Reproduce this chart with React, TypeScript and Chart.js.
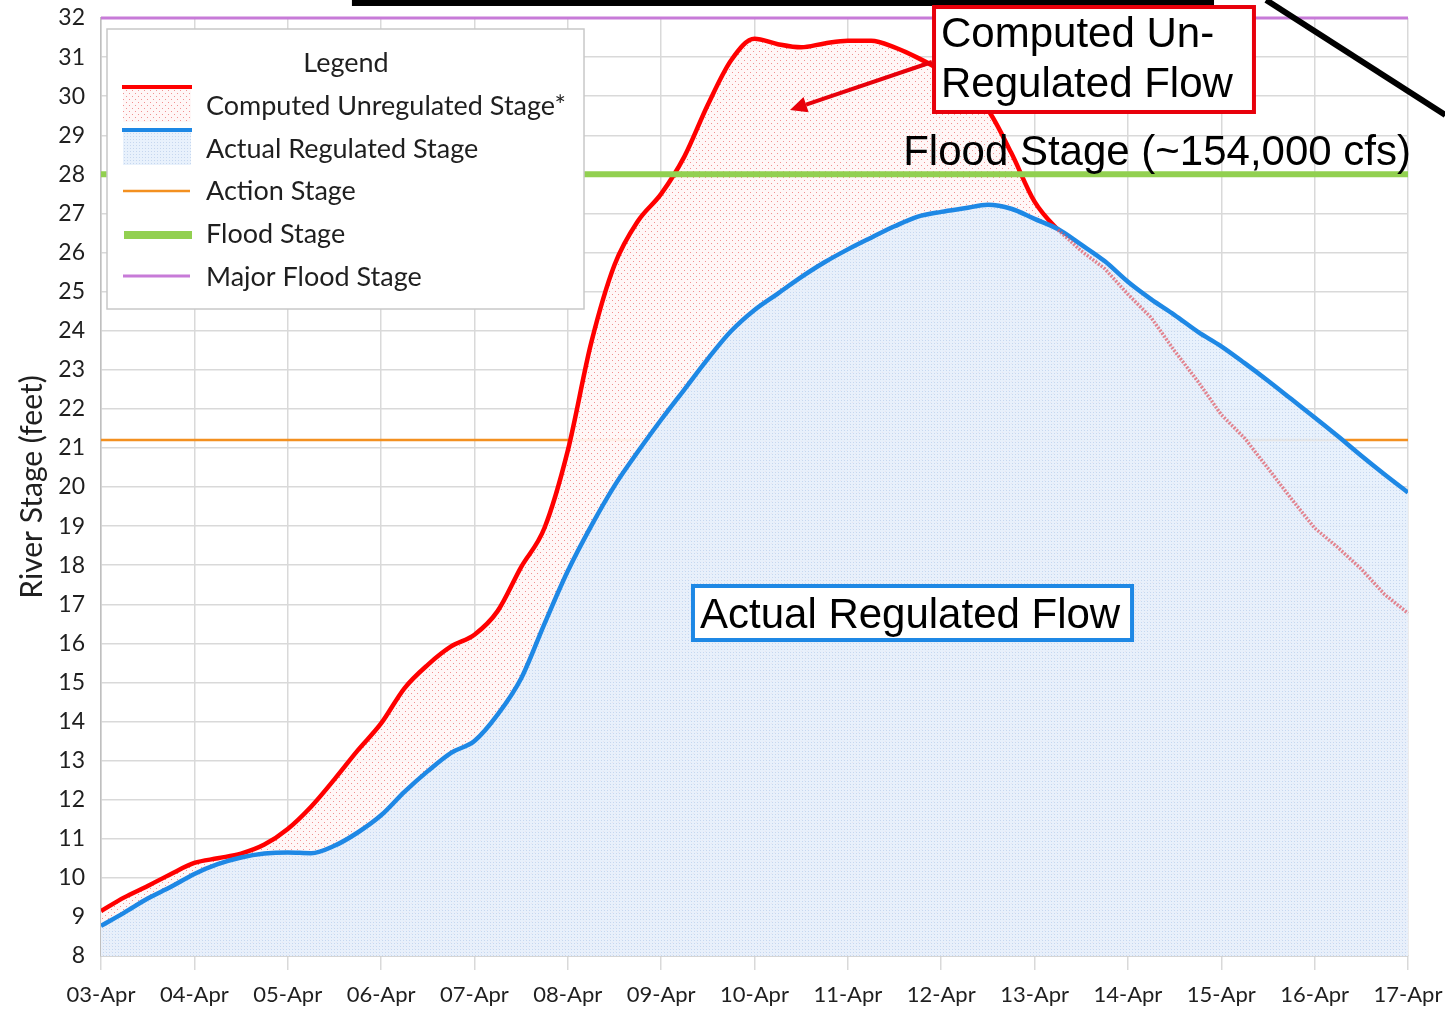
import React, { useEffect, useRef } from 'react';
import { Chart, registerables } from 'chart.js';

Chart.register(...registerables);

// ---------- data ----------
const DAY_LABELS = [
  '03-Apr', '04-Apr', '05-Apr', '06-Apr', '07-Apr', '08-Apr', '09-Apr', '10-Apr',
  '11-Apr', '12-Apr', '13-Apr', '14-Apr', '15-Apr', '16-Apr', '17-Apr',
];
// one sample every 6 hours, starting 03-Apr 00:00
const SAMPLE_STEP_DAYS = 0.25;

const UNREGULATED_STAGE = [
  9.15, 9.5, 9.79, 10.1, 10.38, 10.5, 10.62, 10.85, 11.25, 11.82, 12.52, 13.26, 13.95, 14.85,
  15.45, 15.92, 16.22, 16.83, 17.95, 18.95, 20.93, 23.68, 25.68, 26.8, 27.5, 28.46, 29.78, 30.92,
  31.47, 31.33, 31.25, 31.35, 31.42, 31.42, 31.25, 30.98, 30.65, 30.2, 29.65, 28.55, 27.3, 26.58,
  26.04, 25.59, 24.93, 24.33, 23.48, 22.7, 21.85, 21.25, 20.48, 19.7, 18.95, 18.45, 17.9, 17.25,
  16.77,
];

const REGULATED_STAGE = [
  8.77, 9.11, 9.47, 9.77, 10.1, 10.35, 10.52, 10.62, 10.65, 10.63, 10.82, 11.16, 11.6, 12.2,
  12.73, 13.2, 13.5, 14.18, 15.1, 16.5, 17.85, 19.0, 20.03, 20.9, 21.72, 22.5, 23.28, 23.99,
  24.53, 24.95, 25.37, 25.75, 26.08, 26.38, 26.67, 26.92, 27.04, 27.13, 27.22, 27.12, 26.86, 26.6,
  26.2, 25.78, 25.25, 24.8, 24.4, 23.97, 23.6, 23.17, 22.72, 22.25, 21.78, 21.3, 20.8, 20.32,
  19.86,
];

const ACTION_STAGE = 21.2;
const FLOOD_STAGE = 28;
const MAJOR_FLOOD_STAGE = 32;
const Y_MIN = 8;
const Y_MAX = 32;
// after this time the computed line runs below the regulated line and is shown faintly
const FAINT_AFTER_DAY = 10.25;

const SERIES_LABELS = {
  unreg: 'Computed Unregulated Stage*',
  reg: 'Actual Regulated Stage',
  action: 'Action Stage',
  flood: 'Flood Stage',
  major: 'Major Flood Stage',
};

// ---------- styles ----------
const RED = '#ff0000';
const BLUE = '#1e88e5';
const ORANGE = '#f39020';
const GREEN = '#92d050';
const PURPLE = '#c77bd8';
const GRID = '#d9d9d9';
const TEXT = '#1f1f1f';
const TICK_FONT = 'Lato';
const ANNOT_FONT = '"Liberation Sans", Arial, sans-serif';

function makeDotPattern(size: number, bg: string, dot: string, dots: number[][]): CanvasPattern {
  const c = document.createElement('canvas');
  c.width = size;
  c.height = size;
  const g = c.getContext('2d')!;
  g.fillStyle = bg;
  g.fillRect(0, 0, size, size);
  g.fillStyle = dot;
  for (const [x, y] of dots) g.fillRect(x, y, 1, 1);
  return g.createPattern(c, 'repeat')!;
}

export default function App() {
  const ref = useRef<HTMLCanvasElement>(null);

  useEffect(() => {
    const canvas = ref.current!;
    const pinkPattern = makeDotPattern(6, 'rgba(255,246,246,0.93)', 'rgba(240,140,140,0.95)', [
      [0, 0],
      [3, 3],
    ]);
    const bluePattern = makeDotPattern(3, 'rgba(229,239,252,0.9)', 'rgba(196,214,238,0.95)', [[1, 1]]);

    const toPoints = (arr: number[]) => arr.map((y, i) => ({ x: i * SAMPLE_STEP_DAYS, y }));
    const hLine = (v: number) => [
      { x: 0, y: v },
      { x: DAY_LABELS.length - 1, y: v },
    ];

    // faint tail of the computed line, re-stroked over the regulated area
    const faintTailPlugin = {
      id: 'faintTail',
      afterDatasetsDraw(chart: any) {
        const idx = chart.data.datasets.findIndex((d: any) => d.label === SERIES_LABELS.unreg);
        const meta = chart.getDatasetMeta(idx);
        const pts = meta.data.filter((p: any) => p.parsed && p.parsed.x >= FAINT_AFTER_DAY);
        if (!pts.length) return;
        const { ctx } = chart;
        ctx.save();
        ctx.strokeStyle = 'rgba(225,95,105,0.75)';
        ctx.lineWidth = 3.5;
        ctx.lineJoin = 'round';
        ctx.setLineDash([2, 1.5]);
        ctx.beginPath();
        pts.forEach((p: any, i: number) => (i ? ctx.lineTo(p.x, p.y) : ctx.moveTo(p.x, p.y)));
        ctx.stroke();
        ctx.restore();
      },
    };

    const annotationPlugin = {
      id: 'annotations',
      afterDraw(chart: any) {
        const { ctx } = chart;
        const xs = chart.scales.x;
        const ys = chart.scales.y;
        const X = (v: number) => xs.getPixelForValue(v);
        const Y = (v: number) => ys.getPixelForValue(v);
        ctx.save();

        // ----- legend box -----
        const lx = 107, ly = 29, lw = 477, lh = 280;
        ctx.fillStyle = '#ffffff';
        ctx.fillRect(lx, ly, lw, lh);
        ctx.strokeStyle = '#c8c8c8';
        ctx.lineWidth = 1.5;
        ctx.strokeRect(lx, ly, lw, lh);

        ctx.font = `100px ${TICK_FONT}`;
        const legendSize = (100 * 360) / ctx.measureText(SERIES_LABELS.unreg).width;
        ctx.font = `${legendSize}px ${TICK_FONT}`;
        ctx.fillStyle = TEXT;
        ctx.textBaseline = 'middle';
        ctx.textAlign = 'center';
        ctx.fillText('Legend', 346, 63);
        ctx.textAlign = 'left';
        const rows = [
          { label: SERIES_LABELS.unreg, y: 106 },
          { label: SERIES_LABELS.reg, y: 149 },
          { label: SERIES_LABELS.action, y: 191 },
          { label: SERIES_LABELS.flood, y: 234 },
          { label: SERIES_LABELS.major, y: 277 },
        ];
        rows.forEach((r) => ctx.fillText(r.label, 206, r.y));
        ctx.fillStyle = pinkPattern;
        ctx.fillRect(123, 88, 68, 34);
        ctx.fillStyle = bluePattern;
        ctx.fillRect(123, 131, 68, 34);
        const sw = (y: number, color: string, w: number, x1 = 122, x2 = 192) => {
          ctx.strokeStyle = color;
          ctx.lineWidth = w;
          ctx.beginPath();
          ctx.moveTo(x1, y);
          ctx.lineTo(x2, y);
          ctx.stroke();
        };
        sw(87, RED, 4);
        sw(130, BLUE, 4);
        sw(191, ORANGE, 2.5, 123, 190);
        sw(235, GREEN, 8, 124, 192);
        sw(276, PURPLE, 3, 123, 190);

        // ----- black box at the top (partly off the picture) -----
        ctx.strokeStyle = '#000';
        ctx.lineWidth = 6;
        ctx.strokeRect(X(2.72), Y(32.97), X(11.89) - X(2.72), Y(32.384) - Y(32.97));

        // ----- black diagonal line -----
        ctx.beginPath();
        ctx.moveTo(X(12.48), Y(32.46));
        ctx.lineTo(X(14.4), Y(29.52));
        ctx.stroke();

        // ----- red call-out box -----
        const rx1 = X(8.923), rx2 = X(12.35), ry1 = Y(32.281), ry2 = Y(29.595);
        ctx.fillStyle = '#fff';
        ctx.fillRect(rx1, ry1, rx2 - rx1, ry2 - ry1);
        ctx.strokeStyle = '#e8000b';
        ctx.lineWidth = 4;
        ctx.strokeRect(rx1, ry1, rx2 - rx1, ry2 - ry1);
        ctx.fillStyle = '#000';
        ctx.font = `42px ${ANNOT_FONT}`;
        ctx.textBaseline = 'alphabetic';
        ctx.textAlign = 'left';
        ctx.fillText('Computed Un-', X(8.998), Y(31.258));
        ctx.fillText('Regulated Flow', X(8.998), Y(29.979));

        // arrow
        const ax1 = X(8.901), ay1 = Y(30.874), ax2 = X(7.38), ay2 = Y(29.646);
        const ang = Math.atan2(ay2 - ay1, ax2 - ax1);
        const headLen = 17, headW = 8;
        const hx = ax2 - headLen * Math.cos(ang);
        const hy = ay2 - headLen * Math.sin(ang);
        ctx.strokeStyle = '#e8000b';
        ctx.lineWidth = 4;
        ctx.beginPath();
        ctx.moveTo(ax1, ay1);
        ctx.lineTo(hx, hy);
        ctx.stroke();
        ctx.fillStyle = '#e8000b';
        ctx.beginPath();
        ctx.moveTo(ax2, ay2);
        ctx.lineTo(hx + headW * Math.sin(ang), hy - headW * Math.cos(ang));
        ctx.lineTo(hx - headW * Math.sin(ang), hy + headW * Math.cos(ang));
        ctx.closePath();
        ctx.fill();

        // ----- flood stage text -----
        ctx.fillStyle = '#000';
        ctx.textAlign = 'right';
        ctx.fillText('Flood Stage (~154,000 cfs)', X(14.032), Y(28.239));

        // ----- blue call-out box -----
        const bx1 = X(6.341), bx2 = X(11.044), by1 = Y(17.467), by2 = Y(16.085);
        ctx.fillStyle = '#fff';
        ctx.fillRect(bx1, by1, bx2 - bx1, by2 - by1);
        ctx.strokeStyle = BLUE;
        ctx.lineWidth = 4;
        ctx.strokeRect(bx1, by1, bx2 - bx1, by2 - by1);
        ctx.fillStyle = '#000';
        ctx.textAlign = 'left';
        ctx.fillText('Actual Regulated Flow', X(6.416), Y(16.393));

        ctx.restore();
      },
    };

    const chart = new Chart(canvas, {
      type: 'line',
      data: {
        datasets: [
          {
            label: SERIES_LABELS.major,
            data: hLine(MAJOR_FLOOD_STAGE),
            borderColor: PURPLE,
            borderWidth: 3,
            pointRadius: 0,
            fill: false,
            clip: false,
          },
          {
            label: SERIES_LABELS.flood,
            data: hLine(FLOOD_STAGE),
            borderColor: GREEN,
            borderWidth: 6,
            pointRadius: 0,
            fill: false,
            clip: false,
          },
          {
            label: SERIES_LABELS.reg,
            data: toPoints(REGULATED_STAGE),
            borderColor: BLUE,
            borderWidth: 4.5,
            pointRadius: 0,
            fill: 'start',
            backgroundColor: bluePattern,
            cubicInterpolationMode: 'monotone',
          },
          {
            label: SERIES_LABELS.unreg,
            data: toPoints(UNREGULATED_STAGE),
            borderColor: RED,
            borderWidth: 4.5,
            pointRadius: 0,
            fill: 'start',
            backgroundColor: pinkPattern,
            cubicInterpolationMode: 'monotone',
            segment: {
              borderColor: (c: any) => (c.p0.parsed.x >= FAINT_AFTER_DAY ? 'rgba(0,0,0,0)' : undefined),
            },
          },
          {
            label: SERIES_LABELS.action,
            data: hLine(ACTION_STAGE),
            borderColor: ORANGE,
            borderWidth: 2.5,
            pointRadius: 0,
            fill: false,
          },
        ],
      },
      options: {
        animation: false,
        responsive: false,
        layout: { padding: { left: 0, top: 18, right: 37, bottom: 0 } },
        plugins: {
          legend: { display: false },
          tooltip: { enabled: false },
          filler: { drawTime: 'beforeDatasetDraw' },
        } as any,
        scales: {
          x: {
            type: 'linear',
            min: 0,
            max: DAY_LABELS.length - 1,
            ticks: {
              stepSize: 1,
              autoSkip: false,
              maxRotation: 0,
              padding: 12,
              color: TEXT,
              font: { family: TICK_FONT, size: 22 },
              callback: (v: any) => DAY_LABELS[v] ?? '',
            },
            grid: { color: GRID, lineWidth: 1.5, tickLength: 14 },
            border: { color: '#bfbfbf', width: 1.5 },
            afterFit: (s: any) => {
              s.height = 54;
              s.paddingLeft = 0;
              s.paddingRight = 0;
            },
          },
          y: {
            min: Y_MIN,
            max: Y_MAX,
            ticks: {
              stepSize: 1,
              padding: 16,
              color: TEXT,
              font: { family: TICK_FONT, size: 23 },
            },
            grid: { color: GRID, lineWidth: 1.5, drawTicks: false },
            border: { color: '#bfbfbf', width: 1.5 },
            title: {
              display: true,
              text: 'River Stage (feet)',
              color: TEXT,
              font: { family: TICK_FONT, size: 30 },
              padding: { top: 14, bottom: 0 },
            },
            afterFit: (s: any) => {
              s.width = 101;
              s.paddingTop = 0;
              s.paddingBottom = 0;
            },
          },
        },
      } as any,
      plugins: [faintTailPlugin, annotationPlugin],
    });

    return () => chart.destroy();
  }, []);

  return (
    <div style={{ position: 'absolute', left: 0, top: 0, width: 1445, height: 1010, background: '#fff' }}>
      <canvas ref={ref} width={1445} height={1010} style={{ display: 'block' }} />
    </div>
  );
}
